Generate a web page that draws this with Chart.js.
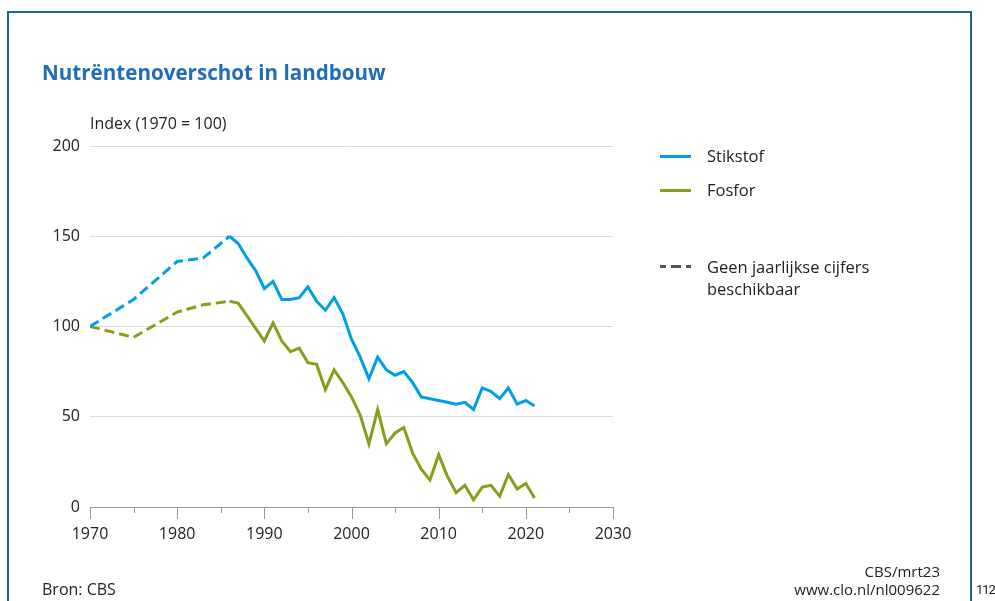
<!DOCTYPE html>
<html>
<head>
<meta charset="utf-8">
<script src="https://cdn.jsdelivr.net/npm/chart.js@4/dist/chart.umd.min.js"></script>
<style>
  html, body { margin: 0; padding: 0; background: #fff; }
  body { width: 995px; height: 601px; position: relative; overflow: hidden; font-family: "Open Sans", "Noto Sans", sans-serif; color: #222; }
  #frame { position: absolute; left: 7px; top: 11px; width: 965px; height: 620px; border: 2px solid #1f6391; box-sizing: border-box; }
  #wrap { position: absolute; left: 0; top: 0; width: 995px; height: 601px; }
  .t { position: absolute; white-space: nowrap; }
  #title { left: 42px; top: 58px; font-size: 20.6px; font-weight: 700; color: #1f6db5; }
  #ytitle { left: 90px; top: 112px; font-size: 16px; }
  .leg { position: absolute; font-size: 16.5px; line-height: 22px; }
  .sw { position: absolute; width: 31px; height: 0; border-top: 3px solid; }
  #foot1 { left: 42px; top: 578px; font-size: 16px; }
  #foot2 { right: 55px; top: 562px; font-size: 15px; text-align: right; line-height: 18px; }
  #page { left: 976px; top: 582px; font-size: 13px; font-family: "Liberation Sans Narrow", "Roboto", sans-serif; letter-spacing: -1px; }
</style>
</head>
<body>
<div id="frame"></div>
<div id="wrap"><canvas id="c" width="995" height="601"></canvas></div>
<div class="t" id="title">Nutrëntenoverschot in landbouw</div>
<div class="t" id="ytitle">Index (1970 = 100)</div>

<div class="sw" style="left:660px; top:155px; border-color:#009fe3;"></div>
<div class="leg" style="left:707px; top:145px;">Stikstof</div>
<div class="sw" style="left:660px; top:189px; border-color:#8c9a1d;"></div>
<div class="leg" style="left:707px; top:179px;">Fosfor</div>
<div class="sw" style="left:660px; top:265px; border-top:3px dashed #555; border-image: repeating-linear-gradient(90deg,#555 0 8px,transparent 8px 12px) 3;"></div>
<div class="leg" style="left:707px; top:256px;">Geen jaarlijkse cijfers<br>beschikbaar</div>

<div class="t" id="foot1">Bron: CBS</div>
<div class="t" id="foot2">CBS/mrt23<br>www.clo.nl/nl009622</div>
<div class="t" id="page">112</div>

<script>
// ---- data ----
const years = [1970, 1975, 1980, 1983, 1986, 1987, 1988, 1989, 1990, 1991, 1992, 1993, 1994, 1995, 1996, 1997, 1998, 1999, 2000, 2001, 2002, 2003, 2004, 2005, 2006, 2007, 2008, 2009, 2010, 2011, 2012, 2013, 2014, 2015, 2016, 2017, 2018, 2019, 2020, 2021];
const stikstof = [100, 115, 136, 138, 150, 146, 138, 131, 121, 125, 115, 115, 116, 122, 114, 109, 116, 107, 93, 83, 71, 83, 76, 73, 75, 69, 61, 60, 59, 58, 57, 58, 54, 66, 64, 60, 66, 57, 59, 56];
const fosfor = [100, 94, 108, 112, 114, 113, 106, 99, 92, 102, 92, 86, 88, 80, 79, 65, 76, 69, 61, 51, 35, 54, 35, 41, 44, 30, 21, 15, 29, 17, 8, 12, 4, 11, 12, 6, 18, 10, 13, 5];
const lastEstimatedYear = 1986; // segments up to this year are dashed (no yearly figures)
const xTicks = [1970, 1980, 1990, 2000, 2010, 2020, 2030];
const yTicks = [0, 50, 100, 150, 200];

const toPts = vals => years.map((y, i) => ({ x: y, y: vals[i] }));
const dashSeg = { borderDash: ctx => ctx.p1.parsed.x <= lastEstimatedYear ? [10, 5] : undefined };

const tickPlugin = {
  id: 'xticks',
  afterDraw(chart) {
    const sx = chart.scales.x, ctx = chart.ctx;
    const y0 = chart.chartArea.bottom;
    ctx.save();
    ctx.strokeStyle = '#9a9a9a';
    ctx.lineWidth = 1;
    for (let v = sx.min; v <= sx.max; v += 5) {
      const px = Math.round(sx.getPixelForValue(v)) + 0.5;
      const len = (v % 10 === 0) ? 12 : 6;
      ctx.beginPath();
      ctx.moveTo(px, y0);
      ctx.lineTo(px, y0 + len);
      ctx.stroke();
    }
    ctx.restore();
  }
};

new Chart(document.getElementById('c'), {
  type: 'line',
  data: {
    datasets: [
      { label: 'Stikstof', data: toPts(stikstof), borderColor: '#009fe3', borderWidth: 3, pointRadius: 0, tension: 0, segment: dashSeg, borderDash: [] },
      { label: 'Fosfor', data: toPts(fosfor), borderColor: '#8c9a1d', borderWidth: 3, pointRadius: 0, tension: 0, segment: dashSeg, borderDash: [] }
    ]
  },
  options: {
    responsive: false,
    animation: false,
    events: [],
    layout: { padding: { left: 0, top: 146, right: 382, bottom: 54 } },
    plugins: { legend: { display: false }, tooltip: { enabled: false } },
    scales: {
      x: {
        type: 'linear', min: 1970, max: 2030,
        afterBuildTicks: s => { s.ticks = xTicks.map(v => ({ value: v })); },
        afterFit: s => { s.height = 40; },
        grid: { display: false, drawTicks: true, tickLength: 12 },
        border: { display: true, color: '#9a9a9a', width: 1 },
        ticks: { color: '#222', font: { family: 'Open Sans', size: 16 }, padding: 6, maxRotation: 0, autoSkip: false, callback: v => String(v) }
      },
      y: {
        min: 0, max: 200,
        afterBuildTicks: s => { s.ticks = yTicks.map(v => ({ value: v })); },
        afterFit: s => { s.width = 90; },
        grid: { drawTicks: false, color: ctx => ctx.tick && ctx.tick.value === 0 ? 'rgba(0,0,0,0)' : '#dcdcdc', lineWidth: 1 },
        border: { display: false },
        ticks: { color: '#222', font: { family: 'Open Sans', size: 16 }, padding: 10 }
      }
    }
  },
  plugins: [tickPlugin]
});
</script>
</body>
</html>
